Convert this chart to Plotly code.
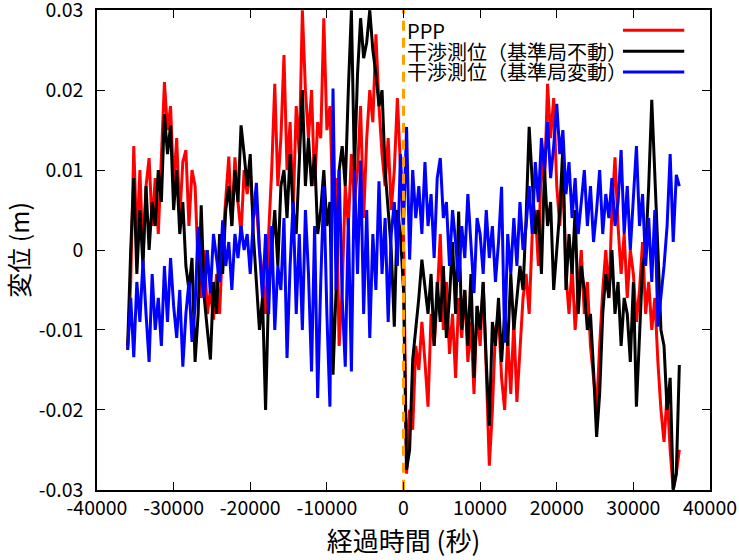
import plotly.graph_objects as go

# ---- data (displacement values in mm, sampled every 400 s) ----
t_start = -36000
t_step = 400

ppp_mm = [
    -12.5, -4, 13, 1, 10, -1, 8, 11.5, 3, 9,
    2, 12, 21, 15, 18, 8, 14, 4, 11, 12.5,
    3, 10, 8, -2, -6, 0, -8, -5, -8.7, -3,
    -8, 1, 6, 11.7, 3, 11.6, 6, 2, 10, 7,
    10, 4, 6, 0, -3, -8, 2, 10, 20.8, 8,
    14, 24.4, 10, 16, 5, 18, 12, 30, 20, 14,
    20, 8, 16, 14, 29, 15, 18, 5, 9, -12,
    -5, 8, 3, 12, 6, 10, 18, 4, 14, 20,
    16, 27, 18, 12, 8, 14, 5, 10, 19, 10,
    2,
    -28, -20, -22.5, -12, -15, -9, -14, -19.6, -8, -12,
    -6, 2, -10, -4, -13, -8, -16, -6, -11, -5,
    -14, -9, -18, -7, -12, -4, -15, -27, -20, -10,
    -8, -16, -20, -11, -18, -9, -19, -13, -6, -3,
    -8, 2, 5, -2, 12, 8, 20.8, 14, 19, 8,
    3, 10, -3, -8, -2, -10, -5, 0, -8, -4,
    -12, -16, -20, -12, -5, 0, -6, 5, 11.6, 3,
    -3, 2, -6, 0, -3, -9, -5, 1, -8, -4,
    -10, -6, -14, -20, -24, -18, -25, -30, -28, -25,
]

fixed_mm = [
    -12, 0, 9, -3, 5, -2, 8, 0, 6, 3,
    10, 6, 17, 12, 15.6, 5, 10, 2, 6, -2,
    -5, -1, -14, -8, 5.6, -6, -10, -13.7, -4, -8,
    2, -3, 5, 8, 3, 10, 6, 15.6, 12, 8,
    12, 2, -4, -10, -6, -20, -5, 0, 5, -2,
    8, 10, 4, 12, 5, 2, 12, 20, 8, 14,
    8, 12, 2, 5, 10, 3, 6, -15.6, -5, 10,
    13, 8, 20, 30, 10, 22, 29, 24, 26, 30,
    25, 22, 18, 20, 10, 5, 0, -9.6, 5, 2,
    -5,
    -27.5, -25, -13.7, -10, -6, -1.2, -5, -8, -3, -12,
    -4, -9, -2, -11, -6, 1, -8, 4.8, -10, -5,
    -12, -3, -16, -7, -10, -4, -14, -22, -9, -12,
    -6, -14, -8, -12, -3, -10, -6, -2, -5, 4,
    15.4, 8, 2, 5, -3, 10, 3, 6, -5, 0,
    5, 12.9, -5, 2, -3, 5, -8, -2, -5, -10,
    -8, -15, -23.4, -18, -8, -3, -6, 0, -8, -4,
    -12, -6, -8, -14, -4, -19.6, -10, -2, 0, 8,
    18.8, 10, 0, -10, -12, -20, -16, -30, -28, -14.4,
]

moving_mm = [
    -12.5, -6, -13.4, -4, -9, -1.3, -8, -14, -3, -10,
    -6, -12, -2, -9, -1, -7, -11, -5, -14.6, -8,
    -4, -11.5, -7, 2.9, -3, -6, 0, -5.4, 2, -1.2,
    -4, 3.7, -2, 1, -5, 2, -1, 3, 0, 2,
    -3, 4, 8.4, 0, -6, 2, -8, 3, -10, -2,
    -5, 4, -13.5, -2, 6, -8, 2, -10, 5, -3,
    -15.2, 3, -18.5, -4, 8, -8, -19.6, 20.2, -5, 10,
    -6, -14.6, 4, -15.2, 10, -3, 11.2, -8, 5, -11,
    2, -5, 8.6, -3, 4, -9, 2, 6, -2, 12,
    3,
    15.4, -1.2, 10, 4, 8, 2, 11, 3, 7, -1,
    9, 11.5, 4, 6, -2, 5, 1, -4, 3, -1,
    7, 0, -5.4, 4, 2, -3, 5, -1, 3, -4,
    1, 7.9, -11.6, 2, -3, 4, -2, 6, 0, 3,
    8, 2, 11, 6, 14, 10, 16, 9, 13, 18.3,
    12, 15, 7, 11, 4, 9, 2, 6, 10, 3,
    8, 1, 5, 10, 2, 7, 4, 9, 3, 6,
    12.5, 2, 8, 0, 6, 13, 3, 7, -2, 4,
    -4, 5, -9.6, -6, -2, 3, 12, 1, 9.4, 8,
]

series_names = ["PPP", "干渉測位（基準局不動）", "干渉測位（基準局変動）"]
series_colors = ["#ff0000", "#000000", "#0000ff"]
event_time = 0

x_tickvals = [-40000, -30000, -20000, -10000, 0, 10000, 20000, 30000, 40000]
x_ticktext = ["-40000", "-30000", "-20000", "-10000", "0", "10000", "20000", "30000", "40000"]
y_tickvals = [0.03, 0.02, 0.01, 0, -0.01, -0.02, -0.03]
y_ticktext = ["0.03", "0.02", "0.01", "0", "-0.01", "-0.02", "-0.03"]

# ---- figure ----
time_s = [t_start + t_step * i for i in range(len(ppp_mm))]
all_series = [ppp_mm, fixed_mm, moving_mm]

FONT = "Noto Sans CJK JP"
fig = go.Figure()
for vals, name, col in zip(all_series, series_names, series_colors):
    fig.add_trace(go.Scatter(
        x=time_s, y=[v / 1000.0 for v in vals], mode="lines", name=name,
        line=dict(color=col, width=3), showlegend=False,
    ))

fig.add_trace(go.Scatter(
    x=[event_time, event_time], y=[y_tickvals[-1], y_tickvals[0]], mode="lines",
    line=dict(color="#ffa000", width=3, dash="10px,7px"), showlegend=False,
))

axis_common = dict(
    showline=True, linecolor="black", linewidth=1.5, mirror="ticks",
    ticks="inside", ticklen=8, tickwidth=1.2, tickcolor="black",
    showgrid=False, zeroline=False, ticklabeloverflow="allow", automargin=False,
    tickfont=dict(family=FONT, size=19.5, color="black"),
)

pad = 0.00003
fig.update_layout(
    width=739, height=560,
    margin=dict(l=97, r=29, t=10, b=70),
    paper_bgcolor="white", plot_bgcolor="white",
    font=dict(family=FONT, color="black"),
    showlegend=False,
    xaxis=dict(
        range=[x_tickvals[0], x_tickvals[-1]], tickvals=x_tickvals, ticktext=x_ticktext,
        title=dict(text="経過時間 (秒)", font=dict(family=FONT, size=26), standoff=13),
        **axis_common,
    ),
    yaxis=dict(
        range=[y_tickvals[-1] - pad, y_tickvals[0] + pad], tickvals=y_tickvals, ticktext=y_ticktext,
        title=dict(text="変位 (m)", font=dict(family=FONT, size=25), standoff=8),
        ticklabelstandoff=8,
        **axis_common,
    ),
)

# legend drawn gnuplot-style: text on the left, line sample on the right
legend_rows_y = [0.958, 0.914, 0.871]
for name, col, yy in zip(series_names, series_colors, legend_rows_y):
    fig.add_annotation(
        xref="paper", yref="paper", x=0.502, y=yy, xanchor="left", yanchor="middle",
        text=name, showarrow=False, font=dict(family=FONT, size=20, color="black"),
    )
    fig.add_shape(
        type="line", xref="paper", yref="paper", x0=0.858, x1=0.958, y0=yy, y1=yy,
        line=dict(color=col, width=3),
    )

fig.write_html("out.html", config={"displayModeBar": False},
               post_script="document.body.style.margin='0px';")
